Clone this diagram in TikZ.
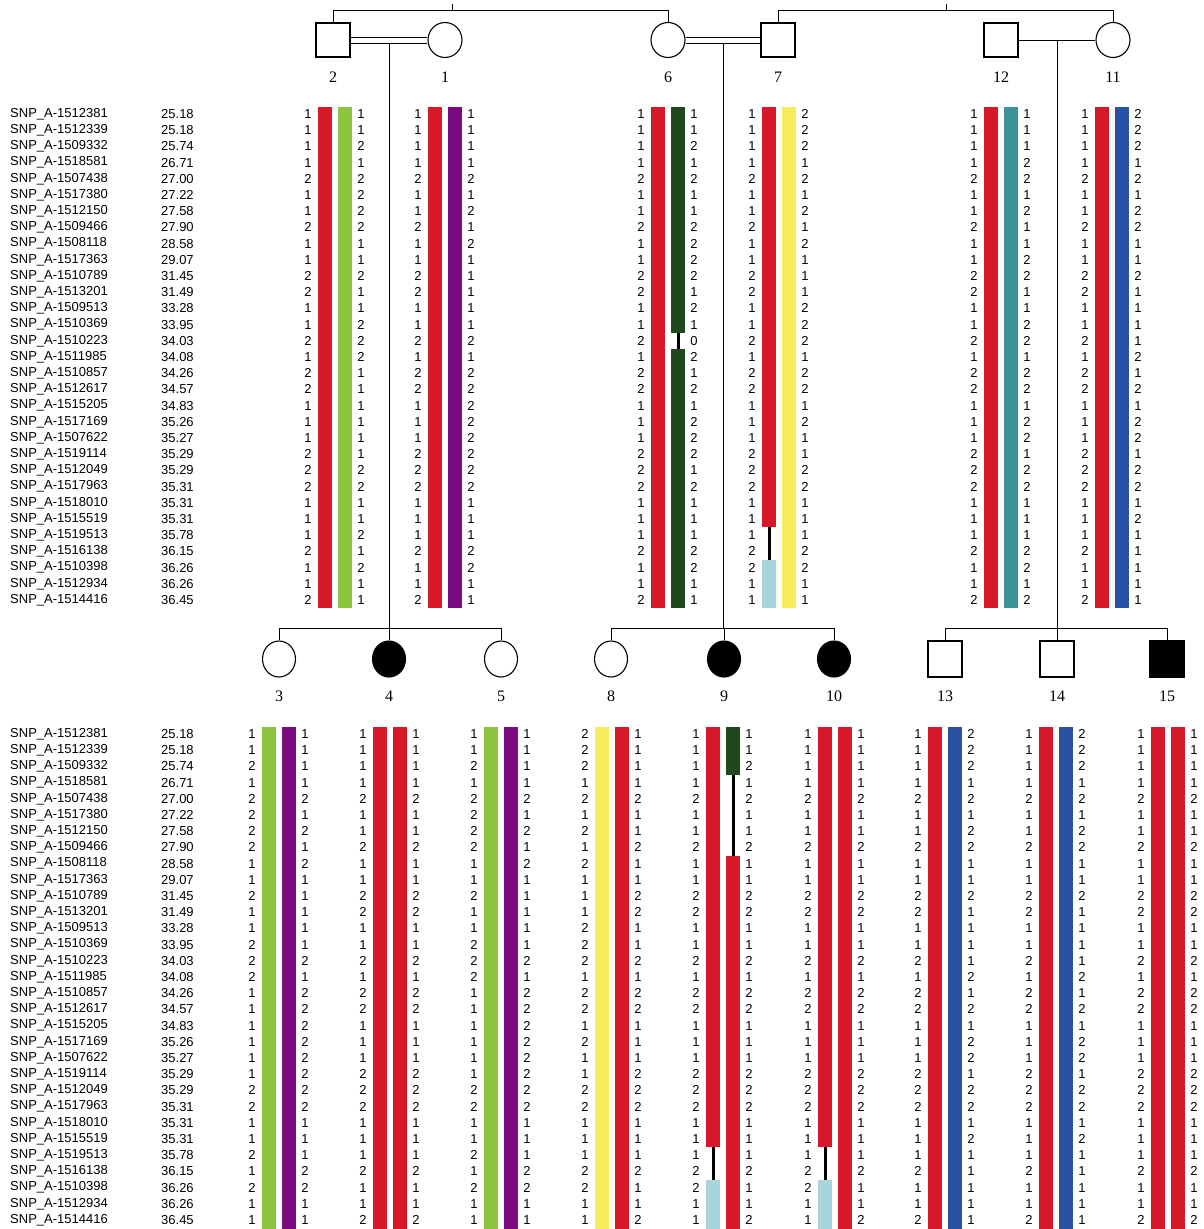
\documentclass[tikz,border=0pt]{standalone}
\usepackage{fontspec}
\setmainfont{Liberation Serif}
\newfontfamily\gtfont{Liberation Sans}
\usetikzlibrary{shapes.geometric,calc}
\definecolor{hred}{RGB}{215,25,42}
\definecolor{hgreen}{RGB}{140,196,64}
\definecolor{hpurple}{RGB}{122,10,125}
\definecolor{hdgreen}{RGB}{32,72,28}
\definecolor{hyellow}{RGB}{245,238,92}
\definecolor{hlblue}{RGB}{168,212,220}
\definecolor{hteal}{RGB}{60,146,148}
\definecolor{hblue}{RGB}{42,82,164}
% haplotypes
\def\hR{1,1,1,1,2,1,1,2,1,1,2,2,1,1,2,1,2,2,1,1,1,2,2,2,1,1,1,2,1,1,2}
\def\hG{1,1,2,1,2,2,2,2,1,1,2,1,1,2,2,2,1,1,1,1,1,1,2,2,1,1,2,1,2,1,1}
\def\hP{1,1,1,1,2,1,2,1,2,1,1,1,1,1,2,1,2,2,2,2,2,2,2,2,1,1,1,2,2,1,1}
\def\hD{1,1,2,1,2,1,1,2,2,2,2,1,2,1,0,2,1,2,1,2,2,2,1,2,1,1,1,2,2,1,1}
\def\hX{1,1,1,1,2,1,1,2,1,1,2,2,1,1,2,1,2,2,1,1,1,2,2,2,1,1,1,2,2,1,1}
\def\hY{2,2,2,1,2,1,2,1,2,1,1,1,2,2,2,1,2,2,1,2,1,1,2,2,1,1,1,2,2,1,1}
\def\hT{1,1,1,2,2,1,2,1,1,2,2,1,1,2,2,1,2,2,1,2,2,1,2,2,1,1,1,2,2,1,2}
\def\hB{2,2,2,1,2,1,2,2,1,1,2,1,1,1,1,2,1,2,1,2,2,1,2,2,1,2,1,1,1,1,1}
\def\hZ{1,1,2,1,2,1,1,2,1,1,2,2,1,1,2,1,2,2,1,1,1,2,2,2,1,1,1,2,1,1,2}
\def\snplist{1512381/25.18,1512339/25.18,1509332/25.74,1518581/26.71,1507438/27.00,1517380/27.22,1512150/27.58,1509466/27.90,1508118/28.58,1517363/29.07,1510789/31.45,1513201/31.49,1509513/33.28,1510369/33.95,1510223/34.03,1511985/34.08,1510857/34.26,1512617/34.57,1515205/34.83,1517169/35.26,1507622/35.27,1519114/35.29,1512049/35.29,1517963/35.31,1518010/35.31,1515519/35.31,1519513/35.78,1516138/36.15,1510398/36.26,1512934/36.26,1514416/36.45}
\def\rowsp{16.2}
% #1 x, #2 y of first row, #3 list, #4 name
\newcommand\gcol[4]{\foreach \v [count=\r] in #3 {\node[gt] (#4-\r) at (#1,{#2+(\r-1)*\rowsp}) {\v};}}
% #1 bar centre x, #2 top, #3 bottom, #4 colour
\newcommand\pbar[4]{\fill[#4] ({#1-7},#2) rectangle ({#1+7},#3);}
% recombinant red / gap / light blue; #1 x, #2 first row y, #3 top, #4 bottom
\newcommand\xbar[4]{%
  \fill[hred] ({#1-7},#3) rectangle ({#1+7},{#2+25*\rowsp+8.1});
  \draw[line width=3pt] (#1,{#2+25*\rowsp+8.1}) -- (#1,{#2+28*\rowsp-8.1});
  \fill[hlblue] ({#1-7},{#2+28*\rowsp-8.1}) rectangle ({#1+7},#4);}
% one individual with two plain bars
\newcommand\indiv[9]{%
  \pbar{#1-10}{#3}{#4}{#6}\pbar{#1+10}{#3}{#4}{#8}%
  \gcol{#1-27}{#2}{#5}{#9L}\gcol{#1+26}{#2}{#7}{#9R}}
\begin{document}
\begin{tikzpicture}[x=1pt,y=-1pt,
  gt/.style={font=\gtfont\fontsize{13}{13}\selectfont,inner sep=0pt},
  snp/.style={font=\gtfont\fontsize{13}{13}\selectfont,inner sep=0pt,anchor=west},
  idlab/.style={font=\fontsize{16}{16}\selectfont,inner sep=0pt},
  male/.style={draw,line width=1.1pt,rectangle,minimum width=34pt,minimum height=34pt,inner sep=0pt},
  female/.style={draw,line width=1.1pt,ellipse,minimum width=34pt,minimum height=35pt,inner sep=0pt},
  cmale/.style={male,minimum height=36pt},
  cfemale/.style={female,minimum width=33pt,minimum height=36pt},
  aff/.style={fill=black},
  ped/.style={line width=0.9pt}]
\fill[white] (0,0) rectangle (1203,1229);
\useasboundingbox (0,0) rectangle (1203,1229);

% ---------- SNP labels ----------
\foreach \s/\p [count=\r] in \snplist {
  \node[snp] (ta\r) at (10,{114+(\r-1)*\rowsp}) {SNP\_A-\s};
  \node[snp] (tp\r) at (161,{114+(\r-1)*\rowsp}) {\p};
  \node[snp] (ba\r) at (10,{734+(\r-1)*\rowsp}) {SNP\_A-\s};
  \node[snp] (bp\r) at (161,{734+(\r-1)*\rowsp}) {\p};
}

% ---------- top generation pedigree ----------
\node[male]   (i2)  at (333,40) {};
\node[female] (i1)  at (445,40) {};
\node[female] (i6)  at (668,40) {};
\node[male]   (i7)  at (778,40) {};
\node[male]   (i12) at (1001,40) {};
\node[female] (i11) at (1113,40) {};
\foreach \n/\x in {2/333,1/445,6/668,7/778,12/1001,11/1113}
  \node[idlab] (l\n) at (\x,77) {\n};

\draw[ped] (i2.north) -- ++(0,-12) -| (i6.north);
\draw[ped] (i7.north) -- ++(0,-12) -| (i11.north);
\coordinate (tk1) at (452,11);
\coordinate (tk2) at (946,11);
\draw[ped] (tk1) -- ++(0,-7);
\draw[ped] (tk2) -- ++(0,-7);

\draw[ped] ([yshift=3pt]i2.east) -- ([yshift=3pt]i1.west);
\draw[ped] ([yshift=-3pt]i2.east) -- ([yshift=-3pt]i1.west);
\draw[ped] ([yshift=3pt]i6.east) -- ([yshift=3pt]i7.west);
\draw[ped] ([yshift=-3pt]i6.east) -- ([yshift=-3pt]i7.west);
\draw[ped] (i12.east) -- (i11.west);
\coordinate (m1) at ($([yshift=-3pt]i2.east)!0.5!([yshift=-3pt]i1.west)$);
\coordinate (m2) at ($([yshift=-3pt]i6.east)!0.5!([yshift=-3pt]i7.west)$);
\coordinate (m3) at ($(i12.east)!0.5!(i11.west)$);

% ---------- children ----------
\node[cfemale]     (i3)  at (279,659) {};
\node[cfemale,aff] (i4)  at (389,659) {};
\node[cfemale]     (i5)  at (501,659) {};
\node[cfemale]     (i8)  at (611,659) {};
\node[cfemale,aff] (i9)  at (724,659) {};
\node[cfemale,aff] (i10) at (834,659) {};
\node[cmale]       (i13) at (945,659) {};
\node[cmale]       (i14) at (1057,659) {};
\node[cmale,aff]   (i15) at (1167,659) {};
\foreach \n/\x in {3/279,4/389,5/501,8/611,9/724,10/834,13/945,14/1057,15/1167}
  \node[idlab] (l\n) at (\x,696) {\n};

\coordinate (s1) at ([yshift=12pt]i3.north);
\coordinate (s2) at ([yshift=12pt]i8.north);
\coordinate (s3) at ([yshift=12pt]i13.north);
\draw[ped] (i3.north) -- (s1) -| (i5.north);
\draw[ped] (i4.north) -- (i4.north |- s1);
\draw[ped] (i8.north) -- (s2) -| (i10.north);
\draw[ped] (i9.north) -- (i9.north |- s2);
\draw[ped] (i13.north) -- (s3) -| (i15.north);
\draw[ped] (i14.north) -- (i14.north |- s3);
\draw[ped] (m1) -- (m1 |- s1);
\draw[ped] (m2) -- (m2 |- s2);
\draw[ped] (m3) -- (m3 |- s3);

% ---------- top haplotypes ----------
\indiv{335}{114}{107}{608}{\hR}{hred}{\hG}{hgreen}{g2}
\indiv{445}{114}{107}{608}{\hR}{hred}{\hP}{hpurple}{g1}
% individual 6
\pbar{658}{107}{608}{hred}
\fill[hdgreen] (671,107) rectangle (685,{114+13*\rowsp+8.1});
\draw[line width=3pt] (678,{114+13*\rowsp+8.1}) -- (678,{114+15*\rowsp-8.1});
\fill[hdgreen] (671,{114+15*\rowsp-8.1}) rectangle (685,608);
\gcol{641}{114}{\hR}{g6L}\gcol{694}{114}{\hD}{g6R}
% individual 7
\xbar{769}{114}{107}{608}
\pbar{789}{107}{608}{hyellow}
\gcol{752}{114}{\hX}{g7L}\gcol{805}{114}{\hY}{g7R}
\indiv{1001}{114}{107}{608}{\hR}{hred}{\hT}{hteal}{g12}
\indiv{1112}{114}{107}{608}{\hR}{hred}{\hB}{hblue}{g11}

% ---------- bottom haplotypes ----------
\indiv{279}{734}{727}{1229}{\hG}{hgreen}{\hP}{hpurple}{g3}
\indiv{390}{734}{727}{1229}{\hR}{hred}{\hR}{hred}{g4}
\indiv{501}{734}{727}{1229}{\hG}{hgreen}{\hP}{hpurple}{g5}
\indiv{612}{734}{727}{1229}{\hY}{hyellow}{\hR}{hred}{g8}
% individual 9
\xbar{713}{734}{727}{1229}
\fill[hdgreen] (726,727) rectangle (740,{734+2*\rowsp+8.1});
\draw[line width=3pt] (733,{734+2*\rowsp+8.1}) -- (733,{734+8*\rowsp-8.1});
\fill[hred] (726,{734+8*\rowsp-8.1}) rectangle (740,1229);
\gcol{696}{734}{\hX}{g9L}\gcol{749}{734}{\hZ}{g9R}
% individual 10
\xbar{825}{734}{727}{1229}
\pbar{845}{727}{1229}{hred}
\gcol{808}{734}{\hX}{g10L}\gcol{861}{734}{\hR}{g10R}
\indiv{945}{734}{727}{1229}{\hR}{hred}{\hB}{hblue}{g13}
\indiv{1056}{734}{727}{1229}{\hR}{hred}{\hB}{hblue}{g14}
\indiv{1168}{734}{727}{1229}{\hR}{hred}{\hR}{hred}{g15}
\end{tikzpicture}
\end{document}
